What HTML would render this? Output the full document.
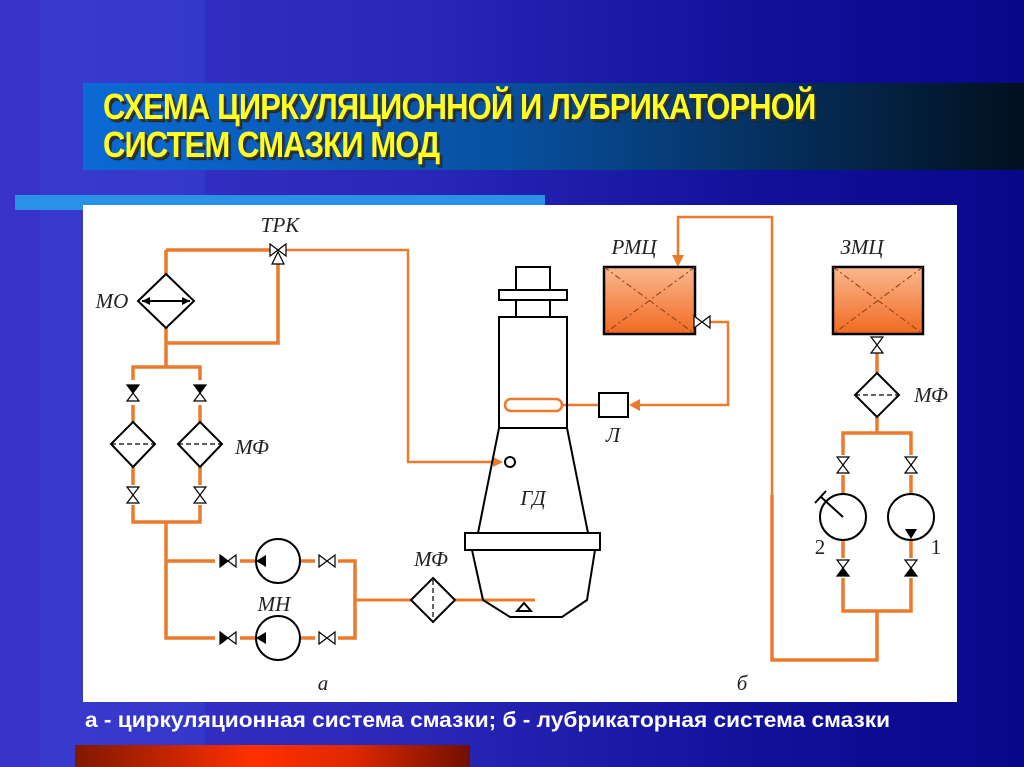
<!DOCTYPE html>
<html><head><meta charset="utf-8"><style>
html,body{margin:0;padding:0;width:1024px;height:767px;overflow:hidden}
body{background:linear-gradient(90deg,#3a33c8 0%,#2a28b8 40%,#10109a 75%,#08088a 100%);position:relative;font-family:"Liberation Sans",sans-serif}
.strip{position:absolute;left:40px;top:0;width:165px;height:767px;background:rgba(60,80,220,0.3)}
.band{position:absolute;left:83px;top:83px;width:941px;height:87px;background:linear-gradient(90deg,#0a6ad6 0%,#0850a0 45%,#02101e 100%)}
.title{position:absolute;left:103px;top:88px;color:#ffff20;font:bold 36px "Liberation Sans",sans-serif;line-height:38px;letter-spacing:-1px;transform:scaleX(0.86);transform-origin:left top;text-shadow:2px 2px 0 #333,3px 3px 1px #222;white-space:nowrap}
.lb{position:absolute;left:15px;top:195px;width:530px;height:15px;background:#2a90e8}
.panel{position:absolute;left:83px;top:205px;width:874px;height:497px;background:#fff}
.cap{position:absolute;left:85px;top:709px;color:#fff;font:bold 21px "Liberation Sans",sans-serif;transform:scaleX(1.08);transform-origin:left top;white-space:nowrap}
.red{position:absolute;left:75px;top:745px;width:395px;height:22px;background:linear-gradient(90deg,#801800 0%,#ff3000 45%,#e02800 70%,#701000 100%)}
svg{position:absolute;left:0;top:0}
</style></head><body>
<div class="strip"></div>
<div class="band"></div>
<div class="title">СХЕМА ЦИРКУЛЯЦИОННОЙ И ЛУБРИКАТОРНОЙ<br>СИСТЕМ СМАЗКИ МОД</div>
<div class="lb"></div>
<div class="panel"></div>
<div class="cap">а - циркуляционная система смазки; б - лубрикаторная система смазки</div>
<div class="red"></div>
<svg width="1024" height="767" viewBox="0 0 1024 767">
<defs>
<linearGradient id="tank" x1="0" y1="0" x2="0" y2="1"><stop offset="0" stop-color="#fbb890"/><stop offset="1" stop-color="#f06a20"/></linearGradient>
<g id="vd"><polygon points="-6,-8 6,-8 0,0" fill="#000" stroke="#000" stroke-width="1.2"/><polygon points="-6,8 6,8 0,0" fill="#fff" stroke="#000" stroke-width="1.2"/></g>
<g id="vo"><polygon points="-6,-8 6,-8 0,0" fill="#fff" stroke="#000" stroke-width="1.2"/><polygon points="-6,8 6,8 0,0" fill="#fff" stroke="#000" stroke-width="1.2"/></g>
<g id="vu"><polygon points="-6,-8 6,-8 0,0" fill="#fff" stroke="#000" stroke-width="1.2"/><polygon points="-6,8 6,8 0,0" fill="#000" stroke="#000" stroke-width="1.2"/></g>
<g id="hl"><polygon points="-8,-6 -8,6 0,0" fill="#000" stroke="#000" stroke-width="1.2"/><polygon points="8,-6 8,6 0,0" fill="#fff" stroke="#000" stroke-width="1.2"/></g>
<g id="ho"><polygon points="-8,-6 -8,6 0,0" fill="#fff" stroke="#000" stroke-width="1.2"/><polygon points="8,-6 8,6 0,0" fill="#fff" stroke="#000" stroke-width="1.2"/></g>
</defs>
<g fill="none" stroke="#ec7a2c" stroke-width="3.5">
<polyline points="278,258 278,343 166,343"/>
<polyline points="166,250 270,250"/>
<polyline points="166,250 166,367"/>
<polyline points="133,380 133,367 200,367 200,380"/>
<line x1="133" y1="405" x2="133" y2="485"/><line x1="200" y1="405" x2="200" y2="485"/>
<polyline points="133,505 133,522 200,522 200,505"/>
<polyline points="166,522 166,638 215,638"/>
<line x1="166" y1="561" x2="215" y2="561"/>
<line x1="240" y1="561" x2="315" y2="561"/><line x1="240" y1="638" x2="315" y2="638"/>
<polyline points="338,561 355,561 355,638 338,638"/>
<line x1="355" y1="600" x2="535" y2="600" stroke-width="3"/>
<line x1="877" y1="352" x2="877" y2="433"/>
<polyline points="843,455 843,433 911,433 911,455"/>
<line x1="843" y1="475" x2="843" y2="558"/><line x1="911" y1="475" x2="911" y2="558"/>
<polyline points="843,578 843,611 911,611 911,578"/>
<polyline points="877,611 877,660 772,660 772,495"/>
</g>
<g fill="none" stroke="#ec7a2c" stroke-width="2.5">
<polyline points="286,250 408,250 408,462 495,462"/>
<polyline points="772,495 772,217 678,217 678,258"/>
<polyline points="708,322 728,322 728,405 640,405"/>
<line x1="562" y1="405" x2="599" y2="405"/>
<rect x="505" y="399" width="57" height="12" rx="6"/>
</g>
<polygon points="503,462 493,457 493,467" fill="#ec7a2c"/>
<polygon points="629,405 640,399 640,411" fill="#ec7a2c"/>
<polygon points="678,267 672,255 684,255" fill="#ec7a2c"/>
<g fill="none" stroke="#000" stroke-width="2">
<polygon points="166,274 194,301 166,328 138,301" fill="#fff"/>
<line x1="142" y1="301" x2="190" y2="301"/>
<polygon points="133,422 155,444 133,467 111,444" fill="#fff"/>
<polygon points="200,422 222,444 200,467 178,444" fill="#fff"/>
<polygon points="433,578 455,600 433,622 411,600" fill="#fff"/>
<polygon points="877,373 899,395 877,417 855,395" fill="#fff"/>
<circle cx="278" cy="561" r="22" fill="#fff"/><circle cx="278" cy="638" r="22" fill="#fff"/>
<circle cx="843" cy="517" r="23" fill="#fff"/><circle cx="911" cy="517" r="23" fill="#fff"/>
<line x1="843" y1="517" x2="821" y2="497"/><line x1="815" y1="503" x2="826" y2="491"/>
<circle cx="510" cy="462" r="5" fill="#fff"/>
<rect x="599" y="393" width="29" height="24" fill="#fff"/>
<rect x="516" y="267" width="34" height="23"/><rect x="499" y="290" width="68" height="10"/><rect x="516" y="300" width="34" height="17"/>
<rect x="499" y="317" width="68" height="111"/>
<polyline points="499,428 478,533"/><polyline points="567,428 588,533"/>
<rect x="465" y="533" width="135" height="17"/>
<polyline points="472,550 483,600 510,617 562,617 587,600 595,550"/>
<polygon points="517,611 531,611 524,603" fill="#fff"/>
</g>
<g stroke="#000" stroke-width="1.2" stroke-dasharray="5,3">
<line x1="111" y1="444" x2="155" y2="444"/><line x1="178" y1="444" x2="222" y2="444"/>
<line x1="855" y1="395" x2="899" y2="395"/><line x1="433" y1="580" x2="433" y2="620"/>
</g>
<polygon points="142,301 150,297 150,305" fill="#000"/><polygon points="190,301 182,297 182,305" fill="#000"/>
<polygon points="256,561 266,555 266,567" fill="#000"/><polygon points="256,638 266,632 266,644" fill="#000"/>
<polygon points="911,539 905,529 917,529" fill="#000"/>
<rect x="604" y="267" width="91" height="67" fill="url(#tank)" stroke="#000" stroke-width="2.5"/>
<rect x="833" y="267" width="90" height="67" fill="url(#tank)" stroke="#000" stroke-width="2.5"/>
<g stroke="#8a3a10" stroke-width="1" stroke-dasharray="6,3,2,3">
<line x1="604" y1="267" x2="695" y2="334"/><line x1="695" y1="267" x2="604" y2="334"/>
<line x1="833" y1="267" x2="923" y2="334"/><line x1="923" y1="267" x2="833" y2="334"/>
</g>
<use href="#ho" x="278" y="250"/>
<polygon points="272,264 284,264 278,252" fill="#fff" stroke="#000" stroke-width="1.2"/>
<use href="#vd" x="133" y="393"/><use href="#vd" x="200" y="393"/>
<use href="#vo" x="133" y="495"/><use href="#vo" x="200" y="495"/>
<use href="#hl" x="228" y="561"/><use href="#hl" x="228" y="638"/>
<use href="#ho" x="327" y="561"/><use href="#ho" x="327" y="638"/>
<use href="#ho" x="702" y="322"/>
<use href="#vo" x="877" y="345"/>
<use href="#vo" x="843" y="465"/><use href="#vo" x="911" y="465"/>
<use href="#vu" x="843" y="568"/><use href="#vu" x="911" y="568"/>
<g font-family="Liberation Serif,serif" font-style="italic" font-size="21" fill="#222" text-anchor="middle">
<text x="280" y="232">ТРК</text><text x="112" y="308">МО</text>
<text x="252" y="454">МФ</text><text x="431" y="566">МФ</text>
<text x="274" y="611">МН</text><text x="323" y="690">а</text>
<text x="533" y="505">ГД</text><text x="613" y="442">Л</text>
<text x="634" y="254">РМЦ</text><text x="862" y="254">ЗМЦ</text>
<text x="931" y="402">МФ</text><text x="742" y="690">б</text>
</g>
<g font-family="Liberation Serif,serif" font-size="21" fill="#222" text-anchor="middle">
<text x="820" y="554">2</text><text x="936" y="554">1</text>
</g>
</svg>
</body></html>
